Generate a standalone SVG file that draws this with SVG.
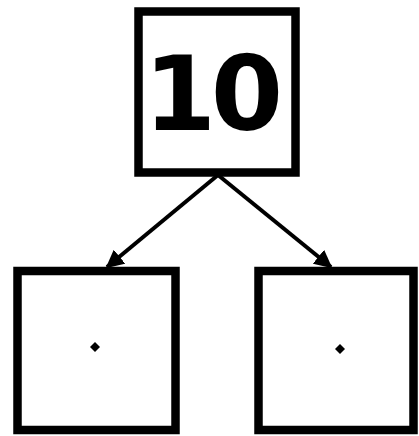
<svg xmlns="http://www.w3.org/2000/svg" width="419" height="436" viewBox="0 0 419 436">
<defs>
<style>
.box{fill:#fff;stroke:#000;stroke-width:8.5}
.edge{stroke:#000;stroke-width:4;fill:none}
.dot{fill:#000}
.num{font-family:"DejaVu Sans",sans-serif;font-weight:bold;font-size:104px;fill:#000}
</style>
<marker id="ah" viewBox="0 0 10 10" refX="9" refY="5" markerWidth="4.5" markerHeight="4.5" markerUnits="strokeWidth" orient="auto">
<path d="M0,0 L10,5 L0,10 z" fill="#000"/>
</marker>
</defs>
<rect width="419" height="436" fill="#fff"/>
<g id="connectors">
<line class="edge" x1="218" y1="175" x2="107" y2="267" marker-end="url(#ah)"/>
<line class="edge" x1="218" y1="175" x2="331" y2="267" marker-end="url(#ah)"/>
</g>
<g id="node-top">
<rect class="box" x="138.5" y="11.5" width="157" height="161"/>
<text class="num" x="180 247" y="130" text-anchor="middle">10</text>
</g>
<g id="node-left">
<rect class="box" x="17.5" y="271" width="158" height="159"/>
<path class="dot" d="M95,342 L100,347 L95,352 L90,347 z"/>
</g>
<g id="node-right">
<rect class="box" x="258.5" y="271" width="155" height="159"/>
<path class="dot" d="M340,344 L345,349 L340,354 L335,349 z"/>
</g>
</svg>
